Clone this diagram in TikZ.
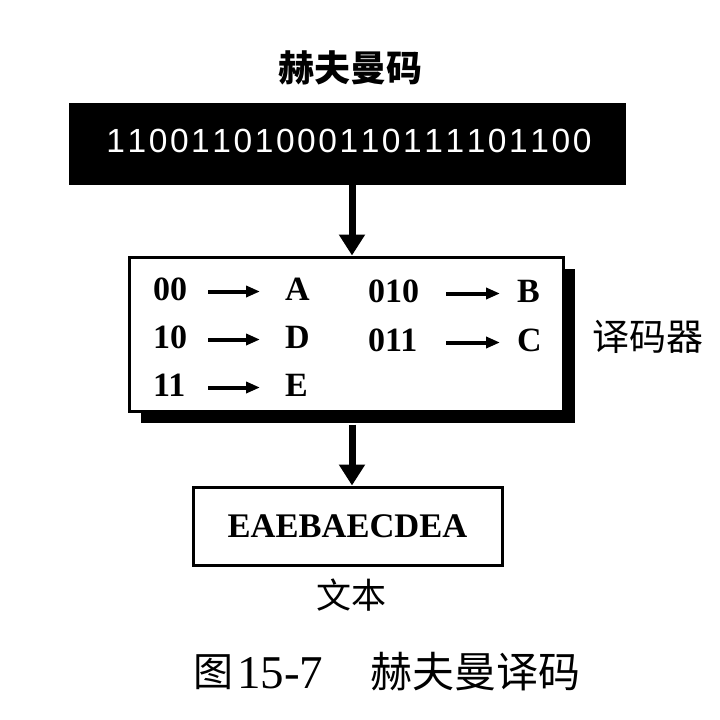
\documentclass[tikz,border=0pt]{standalone}
\usepackage{fontspec}
\setmainfont{Liberation Serif}
\setsansfont{Liberation Sans}
\newfontfamily\cjk{Noto Sans CJK SC}
\usetikzlibrary{arrows.meta,shadows}
\newcommand\bdg[1]{\makebox[21.2pt]{#1}}
\begin{document}
\begin{tikzpicture}[x=1pt,y=-1pt,
  box/.style={draw, line width=3pt, inner sep=0pt, fill=white},
  bigarr/.style={line width=7pt, -{Triangle[length=21pt,width=25pt]}},
  smallarr/.style={line width=4pt, -{Triangle[length=14pt,width=11pt]}},
  code/.style={anchor=base west, inner sep=0pt, font=\fontsize{34}{40}\selectfont\bfseries},
  cjklbl/.style={inner sep=0pt}]
\useasboundingbox (0,0) rectangle (720,720);
\fill[white] (0,0) rectangle (720,720);
% title
\node[cjklbl, font=\cjk\bfseries\fontsize{36}{40}\selectfont] (title) at (350,68) {赫夫曼码};
% binary box
\node[fill=black, minimum width=557pt, minimum height=82pt, inner sep=0pt] (bin) at (347.5,144) {};
\node[inner sep=0pt, text=white, font=\sffamily\fontsize{33.5}{40}\selectfont] (bintxt) at (349,141)
  {\bdg1\bdg1\bdg0\bdg0\bdg1\bdg1\bdg0\bdg1\bdg0\bdg0\bdg0\bdg1\bdg1\bdg0\bdg1\bdg1\bdg1\bdg1\bdg0\bdg1\bdg1\bdg0\bdg0};
% decoder
\node[box, minimum width=434pt, minimum height=154pt,
  drop shadow={shadow xshift=12pt, shadow yshift=-12pt, fill=black, opacity=1}] (dec) at (346,334) {};
\node[cjklbl, font=\cjk\fontsize{37}{40}\selectfont] (declbl) at (648,337) {译码器};
% decoder entries, left column
\node[code] (c1) at (153,300) {00};
\node[code] (l1) at (285,300) {A};
\node[code] (c2) at (153,348) {10};
\node[code] (l2) at (285,348) {D};
\node[code] (c3) at (153,396) {11};
\node[code] (l3) at (285,396) {E};
% right column
\node[code] (c4) at (368,302) {010};
\node[code] (l4) at (517,302) {B};
\node[code] (c5) at (368,351) {011};
\node[code] (l5) at (517,351) {C};
% code arrows
\coordinate (a1s) at (208,291.5); \coordinate (a1e) at (260,291.5);
\coordinate (a2s) at (208,339.5); \coordinate (a2e) at (260,339.5);
\coordinate (a3s) at (208,387.5); \coordinate (a3e) at (260,387.5);
\coordinate (a4s) at (446,293.5); \coordinate (a4e) at (500,293.5);
\coordinate (a5s) at (446,342.5); \coordinate (a5e) at (500,342.5);
\draw[smallarr] (a1s) -- (a1e);
\draw[smallarr] (a2s) -- (a2e);
\draw[smallarr] (a3s) -- (a3e);
\draw[smallarr] (a4s) -- (a4e);
\draw[smallarr] (a5s) -- (a5e);
% text box
\node[box, minimum width=309pt, minimum height=78pt, font=\fontsize{34.5}{40}\selectfont\bfseries] (txt) at (347.5,526) {EAEBAECDEA};
\node[cjklbl, font=\cjk\fontsize{35}{40}\selectfont] (txtlbl) at (351,595) {文本};
% main arrows
\coordinate (ax) at (352,0);
\draw[bigarr] (bin.south -| ax) -- (dec.north -| ax);
\draw[bigarr] ([yshift=-12pt]dec.south -| ax) -- (txt.north -| ax);
% caption
\node[cjklbl, font=\cjk\fontsize{40}{44}\selectfont] (cap1) at (213,672) {图};
\node[inner sep=0pt, anchor=base west, font=\fontsize{47}{50}\selectfont] (cap2) at (237,688) {15-7};
\node[cjklbl, font=\cjk\fontsize{42}{44}\selectfont] (cap3) at (475,672) {赫夫曼译码};
\end{tikzpicture}
\end{document}
